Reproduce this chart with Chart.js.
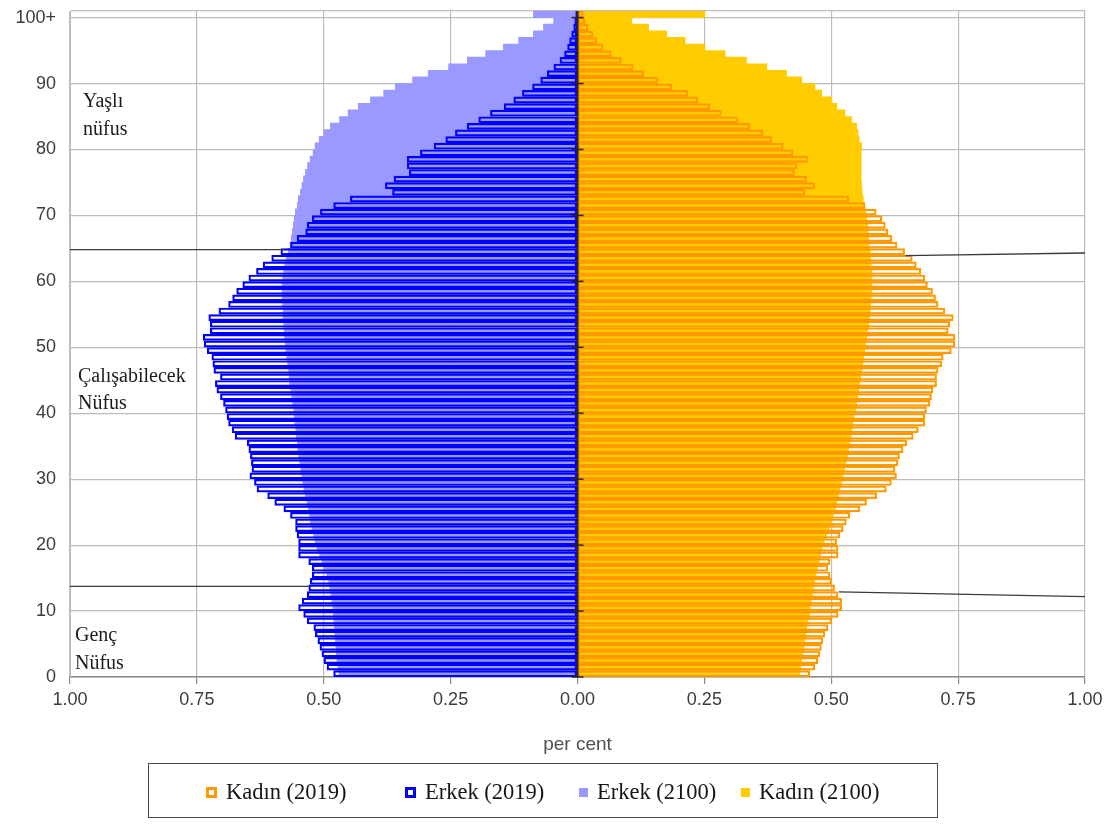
<!DOCTYPE html>
<html>
<head>
<meta charset="utf-8">
<script src="https://cdn.jsdelivr.net/npm/chart.js@4/dist/chart.umd.min.js"></script>
<style>
  html, body { margin: 0; padding: 0; background: #ffffff; }
  #wrap { position: relative; width: 1114px; height: 826px; overflow: hidden; }
  #c { position: absolute; left: 0; top: 0; }
  #legend {
    position: absolute; left: 148px; top: 763px; width: 790px; height: 55px;
    box-sizing: border-box; border: 1.5px solid #4a4a4a;
    font-family: 'Liberation Serif', 'Times New Roman', serif; font-size: 22.5px; color: #161616;
  }
  .item { position: absolute; top: 0; height: 100%; display: flex; align-items: center; white-space: nowrap; padding-top: 3px; box-sizing: border-box; }
  .mk { display: inline-block; box-sizing: border-box; margin-right: 9px; }
</style>
</head>
<body>
<div id="wrap">
  <canvas id="c" width="1114" height="826"></canvas>
  <div id="legend"></div>
</div>
<script>
// ---- categories (age, single years, 0 .. 100+) ----
const ages = [0,1,2,3,4,5,6,7,8,9,10,11,12,13,14,15,16,17,18,19,20,21,22,23,24,25,26,27,28,29,30,31,32,33,34,35,36,37,38,39,40,41,42,43,44,45,46,47,48,49,50,51,52,53,54,55,56,57,58,59,60,61,62,63,64,65,66,67,68,69,70,71,72,73,74,75,76,77,78,79,80,81,82,83,84,85,86,87,88,89,90,91,92,93,94,95,96,97,98,99,100];

// ---- tick labels ----
const yTickValues = [0,10,20,30,40,50,60,70,80,90,100,101];
const yTickLabels = ['0','10','20','30','40','50','60','70','80','90','100+',''];
const xTickLabels = ['1.00','0.75','0.50','0.25','0.00','0.25','0.50','0.75','1.00'];

// ---- series (per cent of total population, by single year of age 0..100+) ----
const kadin2019 = [0.458,0.468,0.474,0.478,0.481,0.484,0.488,0.494,0.501,0.514,0.521,0.521,0.514,0.507,0.501,0.498,0.494,0.498,0.514,0.514,
  0.511,0.517,0.524,0.530,0.537,0.557,0.570,0.590,0.609,0.619,0.629,0.626,0.632,0.635,0.642,0.649,0.662,0.672,0.685,0.685,
  0.688,0.695,0.698,0.701,0.708,0.708,0.711,0.718,0.721,0.737,0.744,0.744,0.731,0.734,0.741,0.724,0.711,0.706,0.700,0.690,
  0.685,0.677,0.668,0.660,0.645,0.630,0.620,0.612,0.607,0.600,0.589,0.567,0.535,0.448,0.468,0.452,0.428,0.433,0.455,0.425,
  0.406,0.383,0.366,0.340,0.317,0.284,0.261,0.238,0.218,0.186,0.159,0.131,0.110,0.087,0.067,0.051,0.038,0.031,0.021,0.015,0.012];

const erkek2019 = [0.481,0.494,0.500,0.504,0.508,0.512,0.517,0.520,0.533,0.540,0.550,0.543,0.533,0.530,0.527,0.523,0.523,0.530,0.550,0.550,
  0.550,0.553,0.556,0.556,0.566,0.579,0.597,0.611,0.632,0.637,0.646,0.642,0.643,0.645,0.648,0.651,0.675,0.681,0.688,0.691,
  0.694,0.698,0.704,0.711,0.714,0.704,0.717,0.719,0.721,0.730,0.736,0.738,0.724,0.724,0.727,0.707,0.688,0.680,0.672,0.660,
  0.648,0.633,0.620,0.603,0.585,0.566,0.553,0.536,0.533,0.523,0.507,0.481,0.448,0.365,0.379,0.362,0.332,0.336,0.336,0.310,
  0.283,0.260,0.241,0.218,0.195,0.172,0.145,0.126,0.109,0.089,0.073,0.060,0.047,0.035,0.026,0.020,0.016,0.012,0.008,0.006,0.004];

const erkek2100 = [0.470,0.472,0.474,0.475,0.476,0.477,0.478,0.479,0.480,0.481,0.482,0.484,0.486,0.488,0.490,0.494,0.499,0.503,0.508,0.513,
  0.517,0.520,0.523,0.526,0.528,0.530,0.533,0.536,0.539,0.541,0.543,0.545,0.547,0.549,0.551,0.552,0.554,0.555,0.557,0.558,
  0.559,0.561,0.563,0.565,0.567,0.568,0.569,0.571,0.573,0.575,0.576,0.577,0.578,0.579,0.580,0.580,0.581,0.582,0.582,0.582,
  0.581,0.579,0.577,0.574,0.570,0.566,0.564,0.562,0.560,0.558,0.556,0.552,0.550,0.546,0.543,0.540,0.536,0.532,0.527,0.521,
  0.517,0.509,0.499,0.487,0.469,0.452,0.432,0.408,0.382,0.359,0.325,0.294,0.254,0.217,0.181,0.146,0.116,0.087,0.067,0.047,0.087];

const kadin2100 = [0.438,0.440,0.442,0.444,0.446,0.448,0.450,0.452,0.454,0.457,0.459,0.461,0.463,0.465,0.467,0.470,0.473,0.476,0.479,0.482,
  0.486,0.491,0.496,0.500,0.504,0.508,0.511,0.514,0.517,0.520,0.523,0.526,0.529,0.532,0.534,0.537,0.539,0.541,0.543,0.545,
  0.548,0.550,0.552,0.554,0.556,0.558,0.560,0.562,0.564,0.566,0.568,0.570,0.572,0.574,0.576,0.577,0.578,0.579,0.580,0.580,
  0.580,0.580,0.579,0.578,0.577,0.575,0.574,0.573,0.572,0.570,0.568,0.566,0.563,0.561,0.560,0.559,0.559,0.559,0.559,0.559,
  0.560,0.555,0.553,0.550,0.540,0.527,0.511,0.501,0.481,0.468,0.442,0.412,0.373,0.333,0.291,0.251,0.212,0.176,0.140,0.107,0.251];

const seriesLabels = ['Kadın (2019)', 'Erkek (2019)', 'Erkek (2100)', 'Kadın (2100)'];

// ---- annotation texts ----
const groupTexts = [
  { lines: ['Yaşlı', 'nüfus'], age: [87.3, 83.0], dx: 13 },
  { lines: ['Çalışabilecek', 'Nüfus'], age: [45.6, 41.5], dx: 8 },
  { lines: ['Genç', 'Nüfus'], age: [6.3, 2.0], dx: 5 }
];
// age-group separator lines: [x1, age1, x2, age2]
const separators = [
  [-1.0, 64.8, -0.58, 64.8],
  [0.646, 63.9, 1.0, 64.3],
  [-1.0, 13.75, -0.528, 13.75],
  [0.515, 12.9, 1.0, 12.2]
];

const SANS = "'Liberation Sans', Arial, sans-serif";
const SERIF = "'Liberation Serif', 'Times New Roman', serif";

const neg = arr => arr.map(v => -v);

const common = { grouped: false, barPercentage: 1, categoryPercentage: 1, yAxisID: 'y', xAxisID: 'x' };

const overlayPlugin = {
  id: 'overlay',
  afterDatasetsDraw(chart) {
    const { ctx, chartArea } = chart;
    const xs = chart.scales.x, ys = chart.scales.y2;
    ctx.save();
    // zero axis with small ticks
    const x0 = xs.getPixelForValue(0);
    ctx.strokeStyle = '#2e2418';
    ctx.lineWidth = 2;
    ctx.beginPath();
    ctx.moveTo(x0, chartArea.top);
    ctx.lineTo(x0, chartArea.bottom);
    ctx.stroke();
    ctx.lineWidth = 1.5;
    yTickValues.slice(0, 11).forEach(v => {
      const y = ys.getPixelForValue(v);
      ctx.beginPath();
      ctx.moveTo(x0 - 6, y);
      ctx.lineTo(x0 + 6, y);
      ctx.stroke();
    });
    // separators
    ctx.strokeStyle = '#3a3a3a';
    ctx.lineWidth = 1.3;
    separators.forEach(s => {
      ctx.beginPath();
      ctx.moveTo(xs.getPixelForValue(s[0]), ys.getPixelForValue(s[1]));
      ctx.lineTo(xs.getPixelForValue(s[2]), ys.getPixelForValue(s[3]));
      ctx.stroke();
    });
    // group texts
    ctx.fillStyle = '#1c1c1c';
    ctx.font = '20px ' + SERIF;
    ctx.textBaseline = 'middle';
    ctx.textAlign = 'left';
    groupTexts.forEach(g => {
      g.lines.forEach((t, i) => {
        ctx.fillText(t, chartArea.left + g.dx, ys.getPixelForValue(g.age[i]));
      });
    });
    ctx.restore();
  }
};

const chart = new Chart(document.getElementById('c'), {
  type: 'bar',
  data: {
    labels: ages,
    datasets: [
      Object.assign({ label: seriesLabels[0], data: kadin2019, backgroundColor: 'rgba(255,255,255,0)', borderColor: '#FF9900', borderWidth: 2, borderSkipped: false, inflateAmount: 0.1 }, common),
      Object.assign({ label: seriesLabels[1], data: neg(erkek2019), backgroundColor: 'rgba(255,255,255,0)', borderColor: '#0000FF', borderWidth: 2, borderSkipped: false, inflateAmount: 0.1 }, common),
      Object.assign({ label: seriesLabels[2], data: neg(erkek2100), backgroundColor: '#9999FF', borderWidth: 0 }, common),
      Object.assign({ label: seriesLabels[3], data: kadin2100, backgroundColor: '#FFCC00', borderWidth: 0 }, common)
    ]
  },
  options: {
    indexAxis: 'y',
    responsive: false,
    animation: false,
    events: [],
    layout: { padding: { top: 11, right: 29, bottom: 66, left: 0 } },
    plugins: { legend: { display: false }, tooltip: { enabled: false } },
    scales: {
      x: {
        type: 'linear', position: 'bottom', min: -1, max: 1, offset: false,
        ticks: {
          stepSize: 0.25, autoSkip: false, maxRotation: 0, padding: 5,
          color: '#3c3c3c', font: { family: SANS, size: 18 },
          callback: (v, i) => xTickLabels[i]
        },
        grid: { color: '#bcbcbc', lineWidth: 1.2, tickLength: 7, tickColor: '#8a8a8a', offset: false },
        border: { display: true, color: '#8a8a8a', width: 1.5 },
        title: { display: true, text: 'per cent', color: '#505050', font: { family: SANS, size: 19 }, padding: { top: 0, bottom: 4 } },
        afterFit: s => { s.height = 83; }
      },
      y: {
        type: 'category', position: 'left', reverse: true, offset: true, display: false
      },
      y2: {
        type: 'linear', position: 'left', min: 0, max: 101, offset: false,
        afterBuildTicks: s => { s.ticks = yTickValues.map(v => ({ value: v })); },
        ticks: {
          autoSkip: false, padding: 14, color: '#3c3c3c', font: { family: SANS, size: 18 },
          callback: (v, i) => yTickLabels[i]
        },
        grid: { color: '#bcbcbc', lineWidth: 1.2, drawTicks: false, offset: false },
        border: { display: true, color: '#bcbcbc' },
        afterFit: s => { s.width = 70; s.paddingTop = 0; s.paddingBottom = 0; }
      }
    }
  },
  plugins: [overlayPlugin]
});

// ---- HTML legend built from the datasets ----
const legendEl = document.getElementById('legend');
const itemLeft = [57, 256, 430, 592];
chart.data.datasets.forEach((ds, i) => {
  const item = document.createElement('div');
  item.className = 'item';
  item.style.left = itemLeft[i] + 'px';
  const mk = document.createElement('span');
  mk.className = 'mk';
  if (ds.borderWidth > 0) {
    mk.style.width = '11px'; mk.style.height = '11px';
    mk.style.border = '3px solid ' + ds.borderColor;
    mk.style.background = '#fff';
  } else {
    mk.style.width = '9px'; mk.style.height = '9px';
    mk.style.background = ds.backgroundColor;
  }
  const tx = document.createElement('span');
  tx.textContent = ds.label;
  item.appendChild(mk);
  item.appendChild(tx);
  legendEl.appendChild(item);
});
</script>
</body>
</html>
